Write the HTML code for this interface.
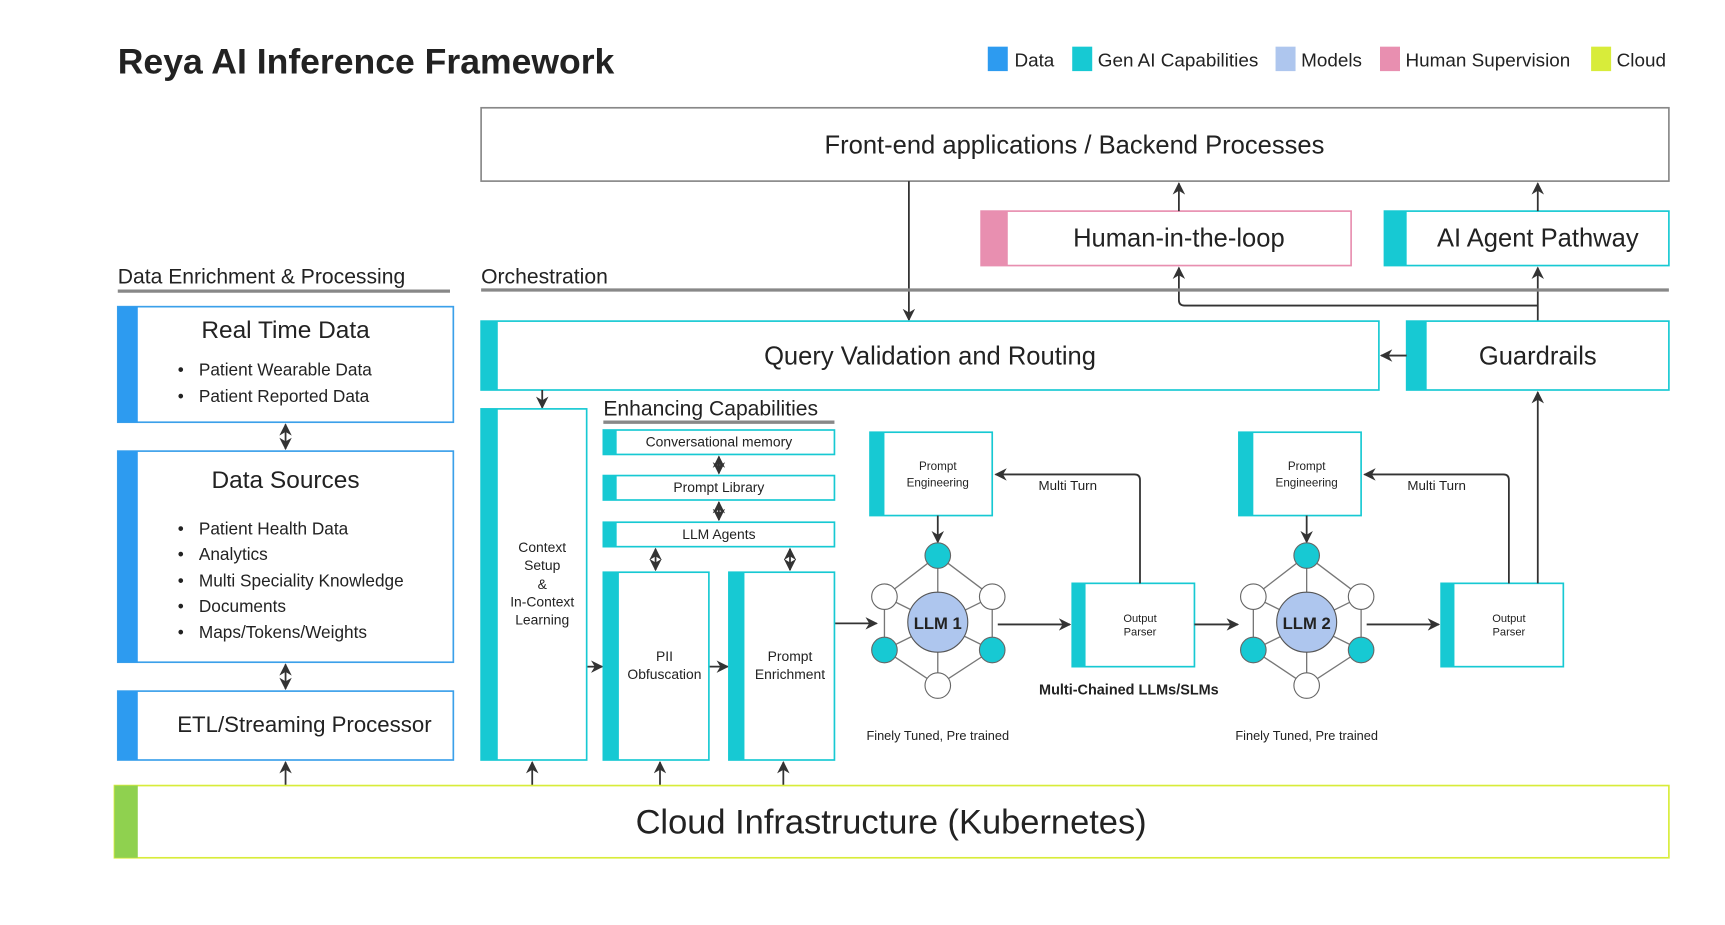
<!DOCTYPE html>
<html><head><meta charset="utf-8"><style>
html,body{margin:0;padding:0;background:#fff;}
svg{display:block;}
text{font-family:"Liberation Sans","DejaVu Sans",sans-serif;fill:#222;}
</style></head><body>
<svg width="1725" height="925" viewBox="0 0 1552.5 832.5" xmlns="http://www.w3.org/2000/svg">
<defs>
<marker id="a" viewBox="0 0 10 10" refX="9" refY="5" markerWidth="7" markerHeight="7" orient="auto-start-reverse"><path d="M0,0 L10,5 L0,10 L3,5 z" fill="#333"/></marker>
</defs>
<rect width="1552.5" height="832.5" fill="#fff"/>
<!-- title -->
<text x="106" y="66" font-size="32" font-weight="bold" fill="#111">Reya AI Inference Framework</text>
<!-- legend -->
<g font-size="17">
<rect x="889" y="42" width="18" height="22" fill="#2d9bf0"/><text x="913" y="60">Data</text>
<rect x="965" y="42" width="18" height="22" fill="#17c9d3"/><text x="988" y="60">Gen AI Capabilities</text>
<rect x="1148" y="42" width="18" height="22" fill="#aec6ee"/><text x="1171" y="60">Models</text>
<rect x="1242" y="42" width="18" height="22" fill="#e88fb0"/><text x="1265" y="60">Human Supervision</text>
<rect x="1432" y="42" width="18" height="22" fill="#d8ec3a"/><text x="1455" y="60">Cloud</text>
</g>
<!-- front-end -->
<rect x="433" y="97" width="1069" height="66" fill="#fff" stroke="#888" stroke-width="1.5"/>
<text x="967" y="138" font-size="23" text-anchor="middle">Front-end applications / Backend Processes</text>
<!-- human in loop -->
<rect x="883" y="190" width="333" height="49" fill="#fff" stroke="#e88fb0" stroke-width="1.5"/>
<rect x="883" y="190" width="24" height="49" fill="#e88fb0"/>
<text x="1061" y="222" font-size="23" text-anchor="middle">Human-in-the-loop</text>
<rect x="1246" y="190" width="256" height="49" fill="#fff" stroke="#17c9d3" stroke-width="1.5"/>
<rect x="1246" y="190" width="20" height="49" fill="#17c9d3"/>
<text x="1384" y="222" font-size="23" text-anchor="middle">AI Agent Pathway</text>
<g stroke="#333" stroke-width="1.6" fill="none">
<line x1="1061" y1="190" x2="1061" y2="165" marker-end="url(#a)"/>
<line x1="1384" y1="190" x2="1384" y2="165" marker-end="url(#a)"/>
<line x1="818" y1="163" x2="818" y2="288" marker-end="url(#a)"/>
<line x1="1384" y1="289" x2="1384" y2="241" marker-end="url(#a)"/>
<path d="M1384,275 L1066,275 Q1061,275 1061,270 L1061,241" marker-end="url(#a)"/>
</g>
<!-- headers -->
<text x="106" y="255" font-size="19">Data Enrichment &amp; Processing</text>
<line x1="106" y1="262" x2="405" y2="262" stroke="#888" stroke-width="3"/>
<text x="433" y="255" font-size="19">Orchestration</text>
<line x1="433" y1="261" x2="1502" y2="261" stroke="#888" stroke-width="3"/>
<!-- query -->
<rect x="433" y="289" width="808" height="62" fill="#fff" stroke="#17c9d3" stroke-width="1.5"/>
<rect x="433" y="289" width="15" height="62" fill="#17c9d3"/>
<text x="837" y="328" font-size="23" text-anchor="middle">Query Validation and Routing</text>
<rect x="1266" y="289" width="236" height="62" fill="#fff" stroke="#17c9d3" stroke-width="1.5"/>
<rect x="1266" y="289" width="18" height="62" fill="#17c9d3"/>
<text x="1384" y="328" font-size="23" text-anchor="middle">Guardrails</text>
<line x1="1266" y1="320" x2="1243" y2="320" stroke="#333" stroke-width="1.6" marker-end="url(#a)"/>
<!-- left column -->
<g stroke="#3ba0ea" stroke-width="1.5" fill="#fff">
<rect x="106" y="276" width="302" height="104"/>
<rect x="106" y="406" width="302" height="190"/>
<rect x="106" y="622" width="302" height="62"/>
</g>
<g fill="#2d9bf0">
<rect x="106" y="276" width="18" height="104"/>
<rect x="106" y="406" width="18" height="190"/>
<rect x="106" y="622" width="18" height="62"/>
</g>
<text x="257" y="304" font-size="22" text-anchor="middle">Real Time Data</text>
<g font-size="15.5">
<text x="160" y="338">•</text><text x="179" y="338">Patient Wearable Data</text>
<text x="160" y="362">•</text><text x="179" y="362">Patient Reported Data</text>
</g>
<text x="257" y="439" font-size="22" text-anchor="middle">Data Sources</text>
<g font-size="15.5">
<text x="160" y="481">•</text><text x="179" y="481">Patient Health Data</text>
<text x="160" y="504">•</text><text x="179" y="504">Analytics</text>
<text x="160" y="528">•</text><text x="179" y="528">Multi Speciality Knowledge</text>
<text x="160" y="551">•</text><text x="179" y="551">Documents</text>
<text x="160" y="574">•</text><text x="179" y="574">Maps/Tokens/Weights</text>
</g>
<text x="274" y="659" font-size="20" text-anchor="middle">ETL/Streaming Processor</text>
<g stroke="#333" stroke-width="1.6" fill="none">
<line x1="257" y1="382" x2="257" y2="404" marker-start="url(#a)" marker-end="url(#a)"/>
<line x1="257" y1="598" x2="257" y2="620" marker-start="url(#a)" marker-end="url(#a)"/>
<line x1="257" y1="707" x2="257" y2="686" marker-end="url(#a)"/>
<line x1="488" y1="351" x2="488" y2="367" marker-end="url(#a)"/>
<line x1="479" y1="707" x2="479" y2="686" marker-end="url(#a)"/>
<line x1="594" y1="707" x2="594" y2="686" marker-end="url(#a)"/>
<line x1="705" y1="707" x2="705" y2="686" marker-end="url(#a)"/>
<line x1="528" y1="600" x2="542" y2="600" marker-end="url(#a)"/>
<line x1="638" y1="600" x2="655" y2="600" marker-end="url(#a)"/>
<line x1="751" y1="561" x2="789" y2="561" marker-end="url(#a)"/>
<line x1="647" y1="411" x2="647" y2="426" marker-start="url(#a)" marker-end="url(#a)"/>
<line x1="647" y1="452" x2="647" y2="468" marker-start="url(#a)" marker-end="url(#a)"/>
<line x1="590" y1="494" x2="590" y2="513" marker-start="url(#a)" marker-end="url(#a)"/>
<line x1="711" y1="494" x2="711" y2="513" marker-start="url(#a)" marker-end="url(#a)"/>
</g>
<!-- context setup -->
<g stroke="#17c9d3" stroke-width="1.5" fill="#fff">
<rect x="433" y="368" width="95" height="316"/>
<rect x="543" y="387" width="208" height="22"/>
<rect x="543" y="428" width="208" height="22"/>
<rect x="543" y="470" width="208" height="22"/>
<rect x="543" y="515" width="95" height="169"/>
<rect x="656" y="515" width="95" height="169"/>
</g>
<g fill="#17c9d3">
<rect x="433" y="368" width="15" height="316"/>
<rect x="543" y="387" width="12" height="22"/>
<rect x="543" y="428" width="12" height="22"/>
<rect x="543" y="470" width="12" height="22"/>
<rect x="543" y="515" width="14" height="169"/>
<rect x="656" y="515" width="14" height="169"/>
</g>
<g font-size="12.5" text-anchor="middle">
<text x="488" y="497">Context</text><text x="488" y="513">Setup</text><text x="488" y="530">&amp;</text>
<text x="488" y="546">In-Context</text><text x="488" y="562">Learning</text>
<text x="647" y="402">Conversational memory</text>
<text x="647" y="443">Prompt Library</text>
<text x="647" y="485">LLM Agents</text>
<text x="598" y="595">PII</text><text x="598" y="611">Obfuscation</text>
<text x="711" y="595">Prompt</text><text x="711" y="611">Enrichment</text>
</g>
<text x="543" y="374" font-size="19">Enhancing Capabilities</text>
<line x1="543" y1="380" x2="751" y2="380" stroke="#888" stroke-width="3"/>
<!-- LLM chains -->
<g id="chain">
<rect x="783" y="389" width="110" height="75" fill="#fff" stroke="#17c9d3" stroke-width="1.5"/>
<rect x="783" y="389" width="13" height="75" fill="#17c9d3"/>
<g font-size="10.5" text-anchor="middle"><text x="844" y="423">Prompt</text><text x="844" y="438">Engineering</text></g>
<line x1="844" y1="464" x2="844" y2="488" stroke="#333" stroke-width="1.6" marker-end="url(#a)"/>
<g stroke="#777" stroke-width="1.2">
<line x1="844" y1="500" x2="796" y2="537"/><line x1="844" y1="500" x2="893" y2="537"/>
<line x1="796" y1="537" x2="796" y2="585"/><line x1="893" y1="537" x2="893" y2="585"/>
<line x1="796" y1="585" x2="844" y2="617"/><line x1="893" y1="585" x2="844" y2="617"/>
<line x1="844" y1="500" x2="844" y2="617"/>
<line x1="796" y1="537" x2="893" y2="585"/><line x1="893" y1="537" x2="796" y2="585"/>
</g>
<g stroke="#666" stroke-width="1">
<circle cx="844" cy="500" r="11.5" fill="#17c9d3"/>
<circle cx="796" cy="537" r="11.5" fill="#fff"/>
<circle cx="893" cy="537" r="11.5" fill="#fff"/>
<circle cx="796" cy="585" r="11.5" fill="#17c9d3"/>
<circle cx="893" cy="585" r="11.5" fill="#17c9d3"/>
<circle cx="844" cy="617" r="11.5" fill="#fff"/>
<circle cx="844" cy="560" r="27" fill="#aec6ee" stroke="#555"/>
</g>
<line x1="898" y1="562" x2="963" y2="562" stroke="#333" stroke-width="1.6" marker-end="url(#a)"/>
<rect x="965" y="525" width="110" height="75" fill="#fff" stroke="#17c9d3" stroke-width="1.5"/>
<rect x="965" y="525" width="12" height="75" fill="#17c9d3"/>
<g font-size="10" text-anchor="middle"><text x="1026" y="560">Output</text><text x="1026" y="572">Parser</text></g>
<path d="M1026,525 L1026,432 Q1026,427 1021,427 L896,427" fill="none" stroke="#333" stroke-width="1.6" marker-end="url(#a)"/>
<text x="961" y="441" font-size="12" text-anchor="middle">Multi Turn</text>
<text x="844" y="666" font-size="11.5" text-anchor="middle">Finely Tuned, Pre trained</text>
</g>
<text x="844" y="566" font-size="15" font-weight="bold" text-anchor="middle" fill="#111">LLM 1</text>
<use href="#chain" transform="translate(332,0)"/>
<text x="1176" y="566" font-size="15" font-weight="bold" text-anchor="middle" fill="#111">LLM 2</text>
<line x1="1075" y1="562" x2="1114" y2="562" stroke="#333" stroke-width="1.6" marker-end="url(#a)"/>
<line x1="1384" y1="525" x2="1384" y2="353" stroke="#333" stroke-width="1.6" marker-end="url(#a)"/>
<text x="1016" y="625" font-size="13" font-weight="bold" text-anchor="middle" fill="#111">Multi-Chained LLMs/SLMs</text>
<!-- cloud -->
<rect x="103" y="707" width="1399" height="65" fill="#fff" stroke="#d8ec3a" stroke-width="1.5"/>
<rect x="103" y="707" width="21" height="65" fill="#8fd14f"/>
<text x="802" y="750" font-size="31" text-anchor="middle">Cloud Infrastructure (Kubernetes)</text>
</svg>
</body></html>
